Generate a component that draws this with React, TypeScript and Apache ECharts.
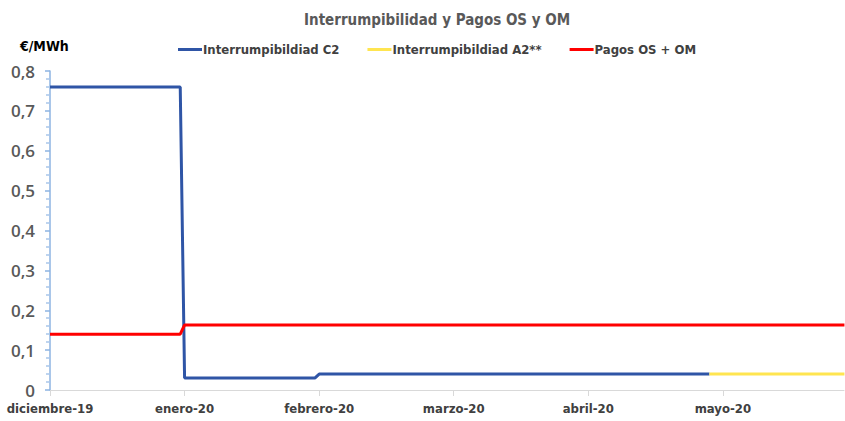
import React, { useEffect, useRef } from "react";
import * as echarts from "echarts";

const monthLabels = ["diciembre-19", "enero-20", "febrero-20", "marzo-20", "abril-20", "mayo-20"];
const monthStarts = ["2019-12", "2020-01", "2020-02", "2020-03", "2020-04", "2020-05"];

const c2Dates = ["2019-12-01", "2019-12-31", "2020-01-01", "2020-01-31", "2020-02-01", "2020-04-28"];
const c2Values = [0.76, 0.76, 0.03, 0.03, 0.04, 0.04];

const a2Dates = ["2020-04-28", "2020-05-29"];
const a2Values = [0.04, 0.04];

const osomDates = ["2019-12-01", "2019-12-31", "2020-01-01", "2020-05-29"];
const osomValues = [0.14, 0.14, 0.163, 0.163];

const yTicks = { min: 0, max: 0.8, interval: 0.1 };

const FONT = "'Liberation Sans Narrow', 'DejaVu Sans Condensed', 'Liberation Sans', sans-serif";

function datePos(d: string): number {
  const [y, m, day] = d.split("-").map(Number);
  const key = `${y}-${String(m).padStart(2, "0")}`;
  const idx = monthStarts.indexOf(key);
  const dim = new Date(y, m, 0).getDate();
  return idx + (day - 1) / dim;
}

function toPairs(dates: string[], vals: number[]) {
  return dates.map((d, i) => [datePos(d), vals[i]]);
}

export default function App() {
  const ref = useRef<HTMLDivElement>(null);
  useEffect(() => {
    if (!ref.current) return;
    const chart = echarts.init(ref.current, undefined, { renderer: "svg" });
    chart.setOption({
      animation: false,
      backgroundColor: "#ffffff",
      title: {
        text: "Interrumpibilidad y Pagos OS y OM",
        left: 299,
        top: 7,
        textStyle: { fontFamily: FONT, fontSize: 15, fontWeight: "bold", color: "#595959" },
      },
      graphic: [
        {
          type: "text",
          left: 20,
          top: 39,
          style: { text: "€/MWh", fontFamily: FONT, fontSize: 14, fontWeight: "bold", fill: "#000000" },
        },
      ],
      legend: {
        left: 173,
        top: 38,
        itemWidth: 24,
        itemHeight: 3,
        itemGap: 28,
        icon: "rect",
        textStyle: { fontFamily: FONT, fontSize: 13, fontWeight: "bold", color: "#404040", padding: [0, 0, 0, -4] },
        data: ["Interrumpibildiad C2", "Interrumpibildiad A2**", "Pagos OS + OM"],
      },
      grid: { left: 50, right: 1, top: 71, bottom: 31 },
      xAxis: {
        type: "value",
        min: 0,
        max: 5.9,
        interval: 1,
        splitLine: { show: false },
        axisLine: { show: true, lineStyle: { color: "#d9d9d9", width: 1 } },
        axisTick: { show: true, length: 6, lineStyle: { color: "#d9d9d9" } },
        axisLabel: {
          showMaxLabel: false,
          margin: 12,
          fontFamily: FONT,
          fontSize: 13,
          fontWeight: "bold",
          color: "#404040",
          formatter: (v: number) => monthLabels[Math.round(v)] ?? "",
        },
      },
      yAxis: {
        type: "value",
        min: yTicks.min,
        max: yTicks.max,
        interval: yTicks.interval,
        splitLine: { show: false },
        axisLine: { show: true, lineStyle: { color: "#8db3e2", width: 1.5 } },
        axisTick: { show: true, length: 5, lineStyle: { color: "#8db3e2", width: 1.5 } },
        minorTick: { show: true, splitNumber: 5, length: 4, lineStyle: { color: "#a9c6ea", width: 1.5 } },
        axisLabel: {
          margin: 15,
          fontFamily: "'Open Sans', 'Noto Sans', sans-serif",
          fontSize: 17,
          fontWeight: 600,
          color: "#595959",
          formatter: (v: number) => (v === 0 ? "0" : v.toFixed(1).replace(".", ",")),
        },
      },
      series: [
        {
          name: "Interrumpibildiad C2",
          type: "line",
          data: toPairs(c2Dates, c2Values),
          symbol: "none",
          lineStyle: { color: "#2f55a6", width: 3 },
          itemStyle: { color: "#2f55a6" },
        },
        {
          name: "Interrumpibildiad A2**",
          type: "line",
          data: toPairs(a2Dates, a2Values),
          symbol: "none",
          lineStyle: { color: "#ffe550", width: 3 },
          itemStyle: { color: "#ffe550" },
        },
        {
          name: "Pagos OS + OM",
          type: "line",
          data: toPairs(osomDates, osomValues),
          symbol: "none",
          lineStyle: { color: "#ff0000", width: 3 },
          itemStyle: { color: "#ff0000" },
        },
      ],
    });
    return () => chart.dispose();
  }, []);
  return (
    <div
      ref={ref}
      style={{ position: "fixed", left: 0, top: 0, width: 845, height: 421 }}
    />
  );
}
